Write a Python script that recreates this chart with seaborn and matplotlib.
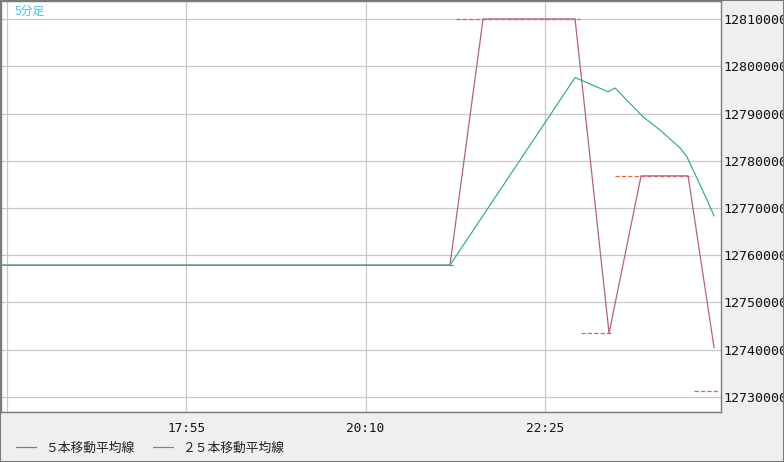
import matplotlib
matplotlib.use("Agg")
import matplotlib.pyplot as plt
import seaborn as sns
import pandas as pd
from matplotlib.patches import Rectangle

# x values are minutes after 15:40 (5-minute chart)
ma5_t = [-10, 333.6, 358.5, 427.8, 453.4, 477.5, 512.9, 532.5]
ma5_v = [12757900, 12757900, 12810000, 12810000, 12743500, 12776800, 12776800, 12740400]

ma25_t = [-10, 333.6, 427.8, 452.6, 457.9, 479.0, 491.8, 506.9, 512.1, 527.2, 532.5]
ma25_v = [12757900, 12757900, 12797600, 12794600, 12795400, 12789300, 12786500,
          12782700, 12780800, 12771700, 12768300]

# short dashed price-level marks
mark_v = [12810000, 12757900, 12743500, 12776800, 12731300]
mark_t0 = [338.2, 332.9, 432.3, 457.9, 517.4]
mark_t1 = [431.5, 336.6, 456.4, 515.9, 536.2]

xticks = [0, 135, 270, 405]
xtick_labels = ["", "17:55", "20:10", "22:25"]
yticks = [12730000, 12740000, 12750000, 12760000, 12770000, 12780000, 12790000, 12800000, 12810000]

labels = ["５本移動平均線", "２５本移動平均線"]
c5 = "#b65e89"
c25 = "#28b27a"
cmark = "#e0643e"

sns.set_style("white")
plt.rcParams['font.family'] = ['Noto Sans CJK JP', 'DejaVu Sans']

fig = plt.figure(figsize=(7.84, 4.62), dpi=100, facecolor="#efefef")
ax = fig.add_axes([1 / 784, 50 / 462, 720 / 784, 411 / 462])
ax.set_facecolor("white")

df5 = pd.DataFrame({"t": ma5_t, "v": ma5_v})
df25 = pd.DataFrame({"t": ma25_t, "v": ma25_v})

ax.hlines(mark_v, mark_t0, mark_t1, colors=cmark, linewidth=0.9, linestyles=(0, (3.4, 1.7)), zorder=3)
sns.lineplot(data=df5, x="t", y="v", ax=ax, color=c5, linewidth=0.9, label=labels[0], zorder=4, sort=False)
sns.lineplot(data=df25, x="t", y="v", ax=ax, color=c25, linewidth=0.85, label=labels[1], zorder=5, sort=False)

ax.set_xlim(-4.5, 537.7)
ax.set_ylim(12726825, 12813810)

ax.set_xticks(xticks)
ax.set_xticklabels(xtick_labels, family="DejaVu Sans Mono", fontsize=9.2, color="#111111")
ax.yaxis.tick_right()
ax.set_yticks(yticks)
ax.set_yticklabels([str(v) for v in yticks], family="DejaVu Sans Mono", fontsize=9.6, color="#111111")
ax.tick_params(axis="x", length=0, pad=7)
ax.tick_params(axis="y", length=0, pad=2)
ax.set_xlabel("")
ax.set_ylabel("")

ax.grid(True, color="#c8c8c8", linewidth=0.9)
ax.set_axisbelow(True)
for s in ax.spines.values():
    s.set_visible(True)
    s.set_color("#7a7a7a")
    s.set_linewidth(1.0)

ax.get_legend().remove()
handles, labs = ax.get_legend_handles_labels()
fig.legend(handles, labs, loc="center left", bbox_to_anchor=(16 / 784, 1 - 448 / 462),
           ncol=2, frameon=False, fontsize=9.2, borderpad=0, borderaxespad=0,
           handlelength=1.55, handletextpad=0.7, columnspacing=1.5,
           labelcolor="#222222")

fig.text(15 / 784, 1 - 11 / 462, "5分足", color="#3ec2f2", fontsize=8.5, va="center", ha="left")

fig.patches.append(Rectangle((0, 0), 1, 1, transform=fig.transFigure, fill=False,
                             edgecolor="#7a7a7a", linewidth=1.5))

fig.savefig("out.png", dpi=100, facecolor=fig.get_facecolor())
